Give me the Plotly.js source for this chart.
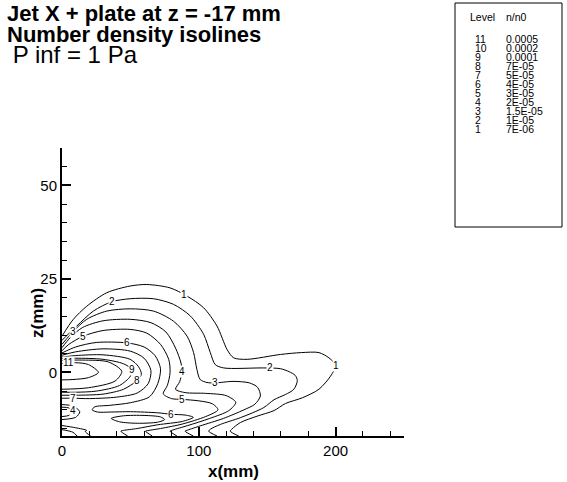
<!DOCTYPE html>
<html><head><meta charset="utf-8">
<script src="https://cdn.plot.ly/plotly-3.0.1.min.js"></script>
<style>body{margin:0;background:#fff}#plot{width:567px;height:482px}</style>
</head><body><div id="plot"></div>
<script>
// ---- isoline data (x in mm, z in mm) ----
const line1X = [0,8.3,18.1,32.7,49.8,62,79,91.4,103.5,113.3,120.7,125.5,135.3,159.7,175,187.8,195.1,200,196.3,187.8,175.6,163.4,155,142.6,130.4,124.3,123,129.2];
const line1Z = [9.7,14.2,17.7,21.3,23.1,23.5,22.6,20.4,17.3,12.4,6.1,3.9,3.5,4.8,5.3,5.3,3.9,1.9,-1,-4.5,-6.8,-8.3,-10.2,-11.7,-13.4,-15.1,-15.7,-17];
const line2X = [0,10.8,22.9,36.4,49.8,66.9,81.5,93.8,103.5,108.4,112,118.2,147.5,159.7,166,170.5,172,169.5,163.4,155,147.5,130.4,115.8,108.4,107.2,113.3];
const line2Z = [8.6,12.4,16.4,18.9,19.7,19.7,18.2,15.1,10.2,5.3,2.1,1.2,1.2,1,0.2,-0.8,-2.2,-4.5,-5.9,-7.3,-9.4,-12.1,-13.9,-15.2,-15.7,-17];
const line3X = [0,8.3,18.1,32.7,49.8,66.9,81.5,91.4,96.2,98.6,101,106,112,125,137,143,145,141,133,118,101,92,90,96];
const line3Z = [7.5,11,14.2,16.4,17,16.4,13.7,9.7,5.3,0.8,-1.9,-2.7,-2.8,-2.4,-2.8,-4,-6.3,-8.5,-10,-12.3,-14.3,-15.4,-15.7,-17];
const line4X = [0,6,15,30,49.8,65,76,83,87,87.7,86,83,90,105,120,127,122,108,92,81,79,84];
const line4Z = [6.6,9.3,12,13.8,14.2,13.3,10.8,6.5,2.5,0.3,-2.5,-4.5,-5.4,-5.6,-6.2,-8,-10.2,-12.3,-14.2,-15.4,-15.7,-17];
const line4bX = [0,5,8,5,0];
const line4bZ = [-9.3,-9.5,-10.5,-11.5,-11.8];
const line5X = [0,5,15.6,30,49.8,62,72,78,79,77,74,80,87.7,100,110,114,105,88,72,62,61,66];
const line5Z = [5.8,7.5,9.7,11.2,11.5,10.5,7.5,3.5,0,-3.5,-5.7,-7,-7.2,-7.6,-8.4,-10,-11.8,-13.8,-15,-15.6,-15.7,-17];
const line5bX = [0,8,13,10,0];
const line5bZ = [-8.6,-9,-10.5,-12,-12.6];
const line6X = [0,10,25,47.4,60,68,72,70,64,50,35,24,22,26,35,50,70,80,90,96,88,70,55,45,43,48];
const line6Z = [5.2,6.8,8,7.9,6.8,4.5,1,-3,-6.5,-8.1,-8.8,-9.2,-10,-10.6,-10.6,-10.5,-10.8,-11.2,-11.4,-12,-13.1,-14,-15,-15.5,-15.7,-17];
const line7X = [0,10,30,49.8,60,65,63,55,40,20,8.3,0];
const line7Z = [4.6,5.5,6.3,5.7,3.8,0.5,-3,-5.5,-6.6,-7,-6.9,-6.9];
const line7bX = [36,45,60,72,75,70,55,42,36];
const line7bZ = [-12.3,-11.6,-11.5,-11.9,-12.6,-13.3,-13.6,-13.2,-12.3];
const line7cX = [0,10,18,17,21];
const line7cZ = [-14.2,-14.8,-15.5,-15.8,-17];
const line8X = [0,10,30,49.8,56,58,54.7,45,30,10,0];
const line8Z = [4.1,4.5,4.7,3.5,1.5,-0.5,-2.2,-4.5,-5.8,-6.1,-6.1];
const line8bX = [0,8,11];
const line8bZ = [-15.3,-16,-17];
const line9X = [0,10,30,45,51,50,42,25,10,0];
const line9Z = [3.7,3.8,3.5,2.3,0.8,-1,-3.5,-5,-5.3,-5.3];
const line10X = [0,15,33.9,43.7,38.8,19.3,0];
const line10Z = [3.2,3.3,2.8,0.3,-2.3,-4.1,-4.5];
const line11X = [0,10,19.3,26.6,19.3,8,0];
const line11Z = [2.4,2.6,2.1,0,-1.4,-1.9,-2];

// ---- isoline labels ----
const labelText = ['1','1','2','2','3','3','4','4','5','5','6','6','7','8','9','11'];
const labelX = [89,200,36.4,152.4,8.3,112,87.7,8,15.6,87.7,47.4,80,8.3,54.7,51,4.6];
const labelZ = [20.8,1.9,18.9,1.2,11,-2.8,0.3,-10.3,9.7,-7.2,7.9,-11.2,-6.9,-2.2,0.8,2.6];

// ---- legend table ----
const levelIds = ['11','10','9','8','7','6','5','4','3','2','1'];
const levelValues = ['0.0005','0.0002','0.0001','7E-05','5E-05','4E-05','3E-05','2E-05','1.5E-05','1E-05','7E-06'];

const lines = [
  [line1X,line1Z],[line2X,line2Z],[line3X,line3Z],[line4X,line4Z],[line4bX,line4bZ],
  [line5X,line5Z],[line5bX,line5bZ],[line6X,line6Z],[line7X,line7Z],[line7bX,line7bZ],
  [line7cX,line7cZ],[line8X,line8Z],[line8bX,line8bZ],[line9X,line9Z],[line10X,line10Z],[line11X,line11Z]
];
const FONT = 'Liberation Sans, Arial, Helvetica, sans-serif';
const traces = lines.map(([x,z]) => ({
  x: x, y: z, type: 'scatter', mode: 'lines',
  line: {color: '#000', width: 1, shape: 'spline', smoothing: 0.8},
  hoverinfo: 'skip', showlegend: false
}));

const annotations = labelText.map((t,i) => ({
  x: labelX[i], y: labelZ[i], xref: 'x', yref: 'y', text: t, showarrow: false,
  font: {family: FONT, size: 10, color: '#000'}, bgcolor: '#fff', borderpad: 0
}));

// plot area spans pixels x 62..404, y 148..436
const px = v => (v - 62) / 342;
const py = v => (436 - v) / 288;
annotations.push(
  {xref:'paper', yref:'paper', x: px(5), y: py(-1), xanchor:'left', yanchor:'top', showarrow:false,
   text:'<b>Jet X + plate at z = -17 mm</b>', font:{family:FONT, size:22, color:'#000'}},
  {xref:'paper', yref:'paper', x: px(5), y: py(20), xanchor:'left', yanchor:'top', showarrow:false,
   text:'<b>Number density isolines</b>', font:{family:FONT, size:22, color:'#000'}},
  {xref:'paper', yref:'paper', x: px(4), y: py(39), xanchor:'left', yanchor:'top', showarrow:false,
   text:' P inf = 1 Pa', font:{family:FONT, size:24, color:'#000'}},
  {xref:'paper', yref:'paper', x: px(233), y: py(471), xanchor:'center', yanchor:'middle', showarrow:false,
   text:'<b>x(mm)</b>', font:{family:FONT, size:17, color:'#000'}},
  {xref:'paper', yref:'paper', x: px(37), y: py(313), xanchor:'center', yanchor:'middle', showarrow:false,
   textangle: -90, text:'<b>z(mm)</b>', font:{family:FONT, size:17, color:'#000'}},
  {xref:'paper', yref:'paper', x: px(469), y: py(17), xanchor:'left', yanchor:'middle', showarrow:false,
   text:'Level', font:{family:FONT, size:10.5, color:'#000'}, borderpad:0},
  {xref:'paper', yref:'paper', x: px(505), y: py(17), xanchor:'left', yanchor:'middle', showarrow:false,
   text:'n/n0', font:{family:FONT, size:10.5, color:'#000'}, borderpad:0}
);
levelIds.forEach((id,i) => {
  const yy = 38 + i * 9;
  annotations.push(
    {xref:'paper', yref:'paper', x: px(474), y: py(yy), xanchor:'left', yanchor:'middle', showarrow:false,
     text:id, font:{family:FONT, size:10.5, color:'#000'}, borderpad:0, height: 9},
    {xref:'paper', yref:'paper', x: px(505), y: py(yy), xanchor:'left', yanchor:'middle', showarrow:false,
     text:levelValues[i], font:{family:FONT, size:10.5, color:'#000'}, borderpad:0, height: 9}
  );
});

const layout = {
  width: 567, height: 482,
  margin: {l: 62, r: 163, t: 148, b: 46},
  paper_bgcolor: '#fff', plot_bgcolor: '#fff',
  showlegend: false,
  font: {family: FONT, color: '#000'},
  xaxis: {
    range: [0, 250], tickvals: [0, 100, 200], ticks: 'inside', ticklen: 9, tickwidth: 2,
    tickcolor: '#000', showline: true, linecolor: '#000', linewidth: 2, showgrid: false, zeroline: false,
    minor: {dtick: 20, tick0: 0, ticks: 'inside', ticklen: 5, tickwidth: 1, tickcolor: '#000', showgrid: false},
    tickfont: {family: FONT, size: 15, color: '#000'}
  },
  yaxis: {
    range: [-17, 60], tickvals: [0, 25, 50], ticks: 'inside', ticklen: 9, tickwidth: 2,
    tickcolor: '#000', showline: true, linecolor: '#000', linewidth: 2, showgrid: false, zeroline: false,
    minor: {dtick: 5, tick0: 0, ticks: 'inside', ticklen: 5, tickwidth: 1, tickcolor: '#000', showgrid: false},
    tickfont: {family: FONT, size: 15, color: '#000'}
  },
  shapes: [{type: 'rect', xref: 'paper', yref: 'paper', x0: px(455), x1: px(562), y0: py(227), y1: py(3),
            line: {color: '#000', width: 1}, fillcolor: 'rgba(0,0,0,0)'}],
  annotations: annotations
};

Plotly.newPlot('plot', traces, layout, {displayModeBar: false, staticPlot: true});
</script></body></html>
